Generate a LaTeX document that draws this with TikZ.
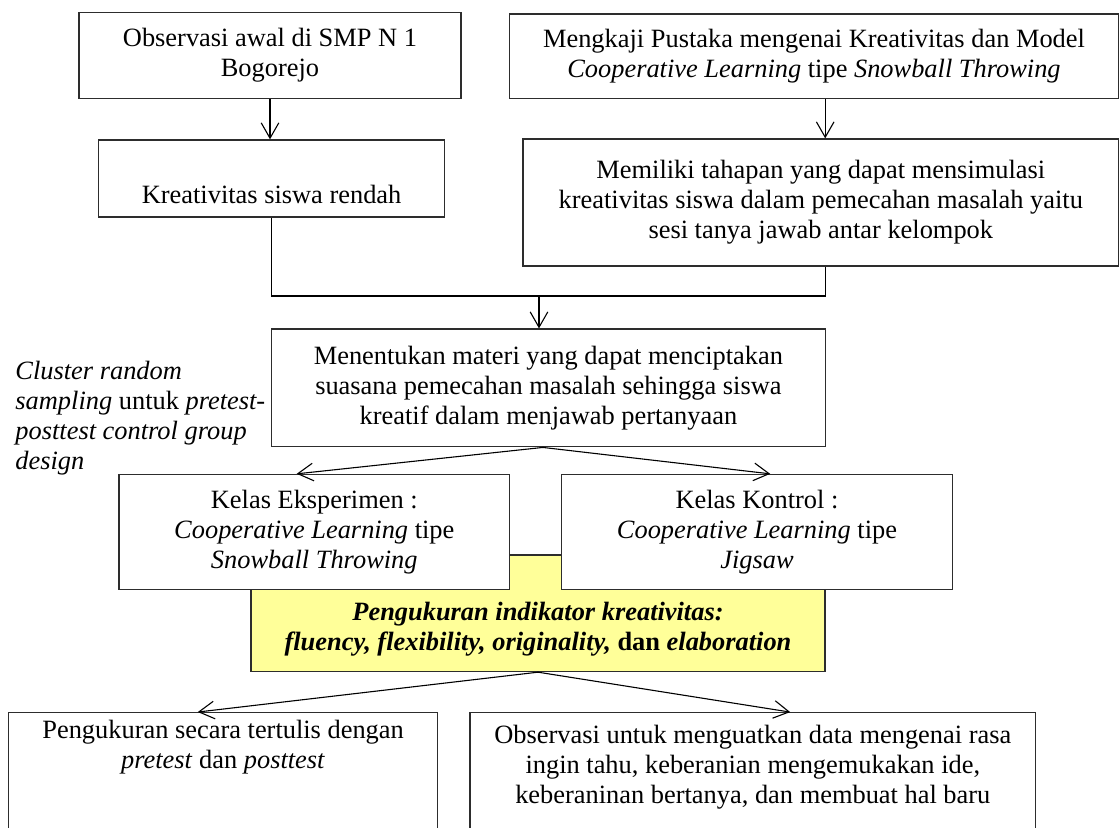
\documentclass[tikz,border=0pt]{standalone}
\usepackage{fontspec}
\setmainfont{Liberation Serif}
\usetikzlibrary{arrows.meta}

\definecolor{hiyellow}{RGB}{255,255,153}
\definecolor{edgegray}{RGB}{45,45,45}

\tikzset{
  box/.style={draw=edgegray, line width=0.6pt, fill=white, align=center,
    inner sep=2pt, font=\fontsize{12pt}{13.6pt}\selectfont},
  hilite/.style={box, fill=hiyellow},
  arr/.style={-{Straight Barb[length=7pt,width=8pt]}, line width=0.5pt},
  note/.style={align=left, inner sep=0pt, font=\fontsize{12pt}{13.6pt}\selectfont}
}

\begin{document}
\begin{tikzpicture}[x=0.4545pt,y=-0.4545pt]
\useasboundingbox (0,0) rectangle (1119,827);
\clip (0,0) rectangle (1119,827);

% top row
\node[box, minimum width=173.6pt, minimum height=39.3pt] (obs) at (270,55.5)
  {Observasi awal di SMP N 1\\Bogorejo};
\node[box, minimum width=276.8pt, minimum height=38.5pt] (kajian) at (814,56.4)
  {Mengkaji Pustaka mengenai Kreativitas dan Model\\
   \textit{Cooperative Learning} tipe \textit{Snowball Throwing}};

\node[box, minimum width=157.3pt, minimum height=35pt] (low) at (271.6,178.5)
  {\strut\\Kreativitas siswa rendah};
\node[box, minimum width=270.7pt, minimum height=57.7pt] (stage) at (820.8,202.5)
  {Memiliki tahapan yang dapat mensimulasi\\
   kreativitas siswa dalam pemecahan masalah yaitu\\
   sesi tanya jawab antar kelompok};

\node[box, minimum width=251.7pt, minimum height=53.5pt] (materi) at (548.4,387.9)
  {Menentukan materi yang dapat menciptakan\\
   suasana pemecahan masalah sehingga siswa\\
   kreatif dalam menjawab pertanyaan};

\node[note, anchor=west] (sampling) at (15,418)
  {\textit{Cluster random}\\
   \textit{sampling} untuk \textit{pretest-}\\
   \textit{posttest control group}\\
   \textit{design}};

% yellow box first, the two classes lie on top of it
\node[hilite, minimum width=260.9pt, minimum height=52.9pt] (ukur) at (538,613.3)
  {\strut\\
   \textbf{\textit{Pengukuran indikator kreativitas:}}\\
   \textbf{\textit{fluency, flexibility, originality,} dan \textit{elaboration}}};

\node[box, minimum width=177.5pt, minimum height=52.2pt] (eksp) at (314.3,531.9)
  {Kelas Eksperimen :\\
   \textit{Cooperative Learning} tipe\\
   \textit{Snowball Throwing}};
\node[box, minimum width=177.6pt, minimum height=52.2pt] (kontrol) at (757,531.9)
  {Kelas Kontrol :\\
   \textit{Cooperative Learning} tipe\\
   \textit{Jigsaw}};

\node[box, minimum width=195pt, minimum height=60.3pt] (tulis) at (223.1,779)
  {Pengukuran secara tertulis dengan\\
   \textit{pretest} dan \textit{posttest}\\ \strut\\ \strut};
\node[box, minimum width=257.2pt, minimum height=64.7pt] (amati) at (752.8,783.9)
  {Observasi untuk menguatkan data mengenai rasa\\
   ingin tahu, keberanian mengemukakan ide,\\
   keberaninan bertanya, dan membuat hal baru\\ \strut};

% connectors
\draw[arr] (obs.south) -- (obs.south |- low.north);

\coordinate (stagetop) at ([xshift=2pt]stage.north);
\draw[arr] (stagetop |- kajian.south) -- (stagetop);

\coordinate (stagebot) at ([xshift=2pt]stage.south);
\coordinate (join) at (539,296);
\draw[line width=0.5pt] (low.south) |- (join -| stagebot) -- (stagebot);
\draw[arr] (join) -- (join |- materi.north);

\coordinate (split) at ([xshift=-2.5pt]materi.south);
\draw[arr] (split) -- ([xshift=-8pt]eksp.north);
\draw[arr] (split) -- ([xshift=6pt]kontrol.north);

\draw[arr] (ukur.south) -- ([xshift=-11.5pt]tulis.north);
\draw[arr] (ukur.south) -- ([xshift=17pt]amati.north);

\end{tikzpicture}
\end{document}
